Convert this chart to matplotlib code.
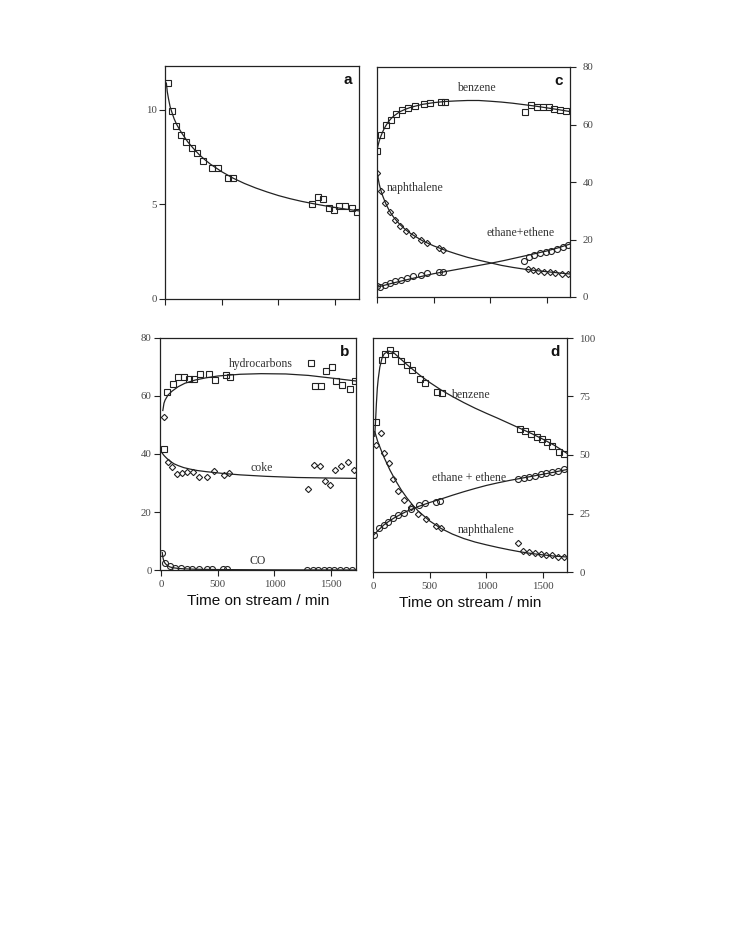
import matplotlib
matplotlib.use("Agg")
import matplotlib.pyplot as plt

# ---------------- data ----------------
# panel a
a_x = [29, 61, 93, 137, 184, 236, 283, 338, 411, 464, 554, 595,
       1296, 1345, 1395, 1444, 1488, 1538, 1584, 1646, 1692]
a_y = [11.38, 9.9, 9.14, 8.66, 8.29, 7.97, 7.71, 7.31, 6.91, 6.9, 6.38, 6.4,
       5.03, 5.38, 5.26, 4.83, 4.69, 4.91, 4.9, 4.78, 4.59]
a_fit_x = [12, 20, 30, 45, 61, 80, 100, 125, 150, 200, 250, 300, 350, 400, 500, 600, 700,
           800, 900, 1000, 1100, 1200, 1300, 1400, 1500, 1600, 1710]
a_fit_y = [11.4, 10.95, 10.6, 10.15, 9.85, 9.52, 9.25, 8.98, 8.74, 8.3, 7.95, 7.63, 7.36,
           7.12, 6.72, 6.38, 6.1, 5.86, 5.65, 5.46, 5.3, 5.16, 5.04, 4.93, 4.83, 4.74, 4.65]

# panel c
c_x_benz = [0, 38, 77, 121, 171, 224, 275, 334, 413, 472, 564, 600,
            1311, 1364, 1414, 1464, 1517, 1565, 1615, 1671]
c_benz = [50.9, 56.5, 59.7, 61.6, 63.7, 65.2, 65.6, 66.3, 67.1, 67.4, 67.7, 67.9,
          64.3, 66.7, 66.0, 66.1, 66.0, 65.4, 65.0, 64.7]
c_x_naph = [3, 38, 71, 112, 159, 207, 260, 319, 387, 446, 546, 579,
            1337, 1382, 1426, 1479, 1532, 1574, 1639, 1689]
c_naph = [43.1, 36.8, 32.7, 29.7, 26.9, 24.8, 22.8, 21.6, 19.7, 18.7, 17.0, 16.5,
          9.6, 9.3, 9.0, 8.7, 8.7, 8.3, 7.9, 7.9]
c_x_eth = [2, 24, 68, 112, 162, 210, 263, 322, 387, 446, 546, 579,
           1302, 1343, 1391, 1444, 1491, 1538, 1588, 1648, 1692]
c_eth = [3.7, 3.4, 4.1, 4.9, 5.6, 6.0, 6.5, 7.2, 7.8, 8.2, 8.8, 8.8,
         12.5, 14.0, 14.7, 15.3, 15.7, 16.1, 16.7, 17.5, 18.1]
c_fit_benz_x = [0, 10, 20, 30, 45, 60, 80, 100, 125, 150, 200, 250, 300, 400, 500, 600,
                700, 800, 900, 1000, 1100, 1200, 1300, 1400, 1500, 1600, 1705]
c_fit_benz = [51.0, 52.8, 54.3, 55.5, 57.0, 58.3, 59.7, 60.9, 62.1, 63.0, 64.4, 65.3, 66.0,
              67.0, 67.6, 68.0, 68.2, 68.35, 68.35, 68.1, 67.8, 67.4, 66.9, 66.4, 65.8, 65.2, 64.5]
c_fit_naph_x = [3, 10, 20, 35, 50, 75, 100, 125, 150, 200, 250, 300, 400, 500, 600, 700,
                800, 900, 1000, 1100, 1200, 1300, 1400, 1500, 1600, 1705]
c_fit_naph = [43.0, 41.3, 39.2, 37.0, 35.2, 32.7, 30.7, 29.0, 27.6, 25.3, 23.5, 22.0, 19.6,
              17.8, 16.3, 15.0, 13.8, 12.8, 11.9, 11.0, 10.3, 9.7, 9.2, 8.8, 8.4, 8.0]
c_fit_eth_x = [0, 125, 250, 375, 500, 625, 750, 875, 1000, 1125, 1250, 1375, 1500, 1600, 1705]
c_fit_eth = [3.4, 4.7, 5.9, 7.0, 8.1, 9.0, 9.9, 10.8, 11.7, 12.7, 13.8, 14.9, 16.0, 17.1, 18.4]

# panel b
b_x_hc = [29, 55, 108, 146, 198, 245, 292, 344, 423, 476, 569, 604,
          1319, 1360, 1412, 1459, 1506, 1547, 1596, 1663, 1707]
b_hc = [41.7, 61.3, 64.1, 66.7, 66.4, 65.9, 65.9, 67.7, 67.5, 65.6, 67.3, 66.4,
        71.3, 63.5, 63.6, 68.7, 70.0, 65.0, 63.7, 62.5, 65.0]
b_x_coke = [29, 65, 94, 137, 181, 231, 283, 336, 409, 464, 557, 595,
            1299, 1348, 1401, 1444, 1494, 1538, 1588, 1649, 1698]
b_coke = [52.9, 37.3, 35.4, 33.1, 33.3, 33.7, 33.8, 32.0, 32.1, 34.2, 32.6, 33.4,
          28.0, 36.2, 35.9, 30.8, 29.3, 34.6, 36.0, 37.2, 34.5]
b_x_co = [12, 35, 79, 123, 175, 225, 274, 333, 406, 449, 549, 584,
          1290, 1342, 1389, 1436, 1482, 1523, 1576, 1634, 1687]
b_co = [6.0, 2.3, 1.4, 0.8, 0.6, 0.5, 0.5, 0.3, 0.3, 0.2, 0.2, 0.2,
        0.1, 0.0, 0.0, 0.0, 0.0, 0.0, 0.0, 0.0, 0.0]
b_fit_hc_x = [15, 25, 35, 60, 94, 150, 210, 300, 400, 502, 700, 882, 1100, 1300, 1500, 1715]
b_fit_hc = [55.0, 57.5, 58.6, 60.3, 61.6, 63.2, 64.4, 65.5, 66.3, 66.9, 67.5, 67.7, 67.6,
            67.1, 66.2, 65.2]
b_fit_coke_x = [0, 25, 50, 79, 115, 150, 200, 254, 320, 400, 546, 700, 925, 1200, 1500, 1715]
b_fit_coke = [40.8, 39.5, 38.5, 37.5, 36.6, 36.0, 35.3, 34.8, 34.3, 33.9, 33.3, 32.8, 32.3,
              31.9, 31.7, 31.6]
b_fit_co_x = [10, 15, 20, 28, 35, 50, 75, 100, 150, 200, 300, 500, 1000, 1715]
b_fit_co = [6.0, 4.5, 3.6, 2.8, 2.3, 1.7, 1.1, 0.8, 0.55, 0.4, 0.25, 0.15, 0.05, 0.0]

# panel d
d_x_benz = [29, 75, 104, 147, 196, 245, 297, 340, 412, 461, 565, 606,
            1292, 1341, 1393, 1442, 1488, 1532, 1581, 1638, 1687]
d_benz = [64.0, 90.6, 93.0, 94.9, 93.0, 90.1, 88.6, 86.3, 82.6, 80.6, 76.8, 76.3,
          61.0, 60.3, 58.9, 57.9, 56.9, 55.4, 54.0, 51.4, 50.6]
d_x_naph = [23, 67, 95, 144, 173, 219, 274, 332, 398, 470, 556, 597,
            1280, 1324, 1379, 1431, 1480, 1529, 1575, 1630, 1682]
d_naph = [54.4, 59.4, 50.8, 46.5, 39.7, 34.6, 30.8, 27.6, 24.6, 22.6, 19.6, 18.9,
          12.2, 9.0, 8.6, 8.1, 7.7, 7.4, 7.1, 6.6, 6.6]
d_x_eth = [9, 52, 95, 133, 173, 216, 274, 332, 404, 461, 551, 594,
           1278, 1327, 1379, 1431, 1480, 1529, 1575, 1633, 1682]
d_eth = [15.7, 18.9, 20.0, 21.4, 23.1, 24.3, 25.4, 27.1, 28.6, 29.4, 30.0, 30.4,
         39.7, 40.0, 40.6, 41.1, 41.9, 42.3, 42.7, 43.3, 44.0]
d_fit_benz_x = [15, 22, 30, 38, 46, 60, 80, 100, 138, 180, 254, 300, 415, 500, 600, 700,
                800, 900, 1000, 1100, 1200, 1300, 1400, 1500, 1600, 1710]
d_fit_benz = [58.0, 64.0, 72.0, 78.5, 82.5, 87.5, 91.5, 93.3, 94.4, 93.8, 90.6, 88.6, 84.0,
              81.0, 77.8, 75.0, 72.4, 70.0, 67.8, 65.7, 63.5, 61.3, 59.1, 56.7, 54.1, 50.7]
d_fit_naph_x = [15, 25, 40, 60, 80, 100, 150, 200, 250, 300, 350, 400, 500, 600, 700, 800,
                900, 1000, 1100, 1200, 1300, 1400, 1500, 1600, 1710]
d_fit_naph = [60.0, 58.5, 56.0, 53.5, 51.0, 48.7, 43.5, 39.0, 35.0, 31.6, 28.6, 26.0, 21.8,
              18.6, 16.2, 14.3, 12.8, 11.6, 10.5, 9.5, 8.6, 7.9, 7.3, 6.8, 6.4]
d_fit_eth_x = [0, 50, 100, 150, 200, 300, 400, 500, 600, 700, 800, 900, 1000, 1100, 1200,
               1300, 1400, 1500, 1600, 1710]
d_fit_eth = [15.5, 18.0, 20.3, 22.0, 23.5, 26.0, 28.0, 29.7, 31.2, 32.8, 34.3, 35.7, 37.0,
             38.1, 39.1, 40.0, 40.9, 41.8, 42.7, 43.8]

xticks = [0, 500, 1000, 1500]
xticklabels = ["0", "500", "1000", "1500"]

# ---------------- style ----------------
W, H = 735, 936
fig = plt.figure(figsize=(W / 100, H / 100), dpi=100)
serif = "Liberation Serif"
sans = "Liberation Sans"
ink = "#222222"
lab = "#444444"
mk = dict(linestyle="none", markerfacecolor="none", markeredgecolor=ink,
          markeredgewidth=0.8)
lw = 0.9


def make_axes(l, r, t, b):
    return fig.add_axes([l / W, 1 - b / H, (r - l) / W, (b - t) / H])


def style(ax, side, xlabels):
    for s in ax.spines.values():
        s.set_linewidth(0.9)
        s.set_color(ink)
    ax.set_xticks(xticks)
    if xlabels:
        ax.set_xticklabels(xticklabels, fontfamily=serif, fontsize=7.8, color=lab)
        ax.set_xlabel("Time on stream / min", fontfamily=sans, fontsize=11,
                      color="#111111", labelpad=4)
    else:
        ax.set_xticklabels([])
    ax.tick_params(axis="x", direction="out", length=4, width=0.8, color=ink, pad=3)
    if side == "right":
        ax.yaxis.tick_right()
        ypad = 5
    else:
        ypad = 2
    ax.tick_params(axis="y", direction="out", length=4, width=0.8, color=ink, pad=ypad,
                   labelsize=7.8, labelcolor=lab)
    for t in ax.get_yticklabels():
        t.set_fontfamily(serif)


def letter(ax, s):
    ax.text(0.965, 0.97, s, transform=ax.transAxes, ha="right", va="top",
            fontfamily=sans, fontweight="bold", fontsize=11, color="#111111")


tk = dict(fontfamily=serif, fontsize=8.5, color="#333333", ha="center", va="center")

# panel a
ax = make_axes(165, 359, 66, 299)
ax.plot(a_fit_x, a_fit_y, color=ink, lw=lw)
ax.plot(a_x, a_y, marker="s", markersize=4.2, **mk)
ax.set_xlim(0, 1710)
ax.set_ylim(0, 12.3)
ax.set_yticks([0, 5, 10])
style(ax, "left", False)
letter(ax, "a")

# panel c
ax = make_axes(377, 570, 67, 297)
ax.plot(c_fit_benz_x, c_fit_benz, color=ink, lw=lw)
ax.plot(c_fit_naph_x, c_fit_naph, color=ink, lw=lw)
ax.plot(c_fit_eth_x, c_fit_eth, color=ink, lw=lw)
ax.plot(c_x_benz, c_benz, marker="s", markersize=4.2, **mk)
ax.plot(c_x_naph, c_naph, marker="D", markersize=3.2, **mk)
ax.plot(c_x_eth, c_eth, marker="o", markersize=4.3, **mk)
ax.set_xlim(0, 1706)
ax.set_ylim(0, 80)
ax.set_yticks([0, 20, 40, 60, 80])
style(ax, "right", False)
letter(ax, "c")
ax.text(875, 72.6, "benzene", **tk)
ax.text(340, 38.0, "naphthalene", **tk)
ax.text(1270, 22.2, "ethane+ethene", **tk)

# panel b
ax = make_axes(160, 356, 338, 570)
ax.plot(b_fit_hc_x, b_fit_hc, color=ink, lw=lw)
ax.plot(b_fit_coke_x, b_fit_coke, color=ink, lw=lw)
ax.plot(b_fit_co_x, b_fit_co, color=ink, lw=lw)
ax.plot(b_x_hc, b_hc, marker="s", markersize=4.2, **mk)
ax.plot(b_x_coke, b_coke, marker="D", markersize=3.2, **mk)
ax.plot(b_x_co, b_co, marker="o", markersize=4.3, **mk)
ax.set_xlim(-10, 1720)
ax.set_ylim(0, 80)
ax.set_yticks([0, 20, 40, 60, 80])
style(ax, "left", True)
letter(ax, "b")
ax.text(880, 71.0, "hydrocarbons", **tk)
ax.text(890, 35.0, "coke", **tk)
ax.text(855, 3.2, "CO", **tk)

# panel d
ax = make_axes(373, 567, 338, 572)
ax.plot(d_fit_benz_x, d_fit_benz, color=ink, lw=lw)
ax.plot(d_fit_naph_x, d_fit_naph, color=ink, lw=lw)
ax.plot(d_fit_eth_x, d_fit_eth, color=ink, lw=lw)
ax.plot(d_x_benz, d_benz, marker="s", markersize=4.2, **mk)
ax.plot(d_x_naph, d_naph, marker="D", markersize=3.2, **mk)
ax.plot(d_x_eth, d_eth, marker="o", markersize=4.3, **mk)
ax.set_xlim(0, 1710)
ax.set_ylim(0, 100)
ax.set_yticks([0, 25, 50, 75, 100])
style(ax, "right", True)
letter(ax, "d")
ax.text(860, 75.8, "benzene", **tk)
ax.text(850, 40.0, "ethane + ethene", **tk)
ax.text(1000, 17.8, "naphthalene", **tk)

fig.savefig("out.png", dpi=100, facecolor="white")
